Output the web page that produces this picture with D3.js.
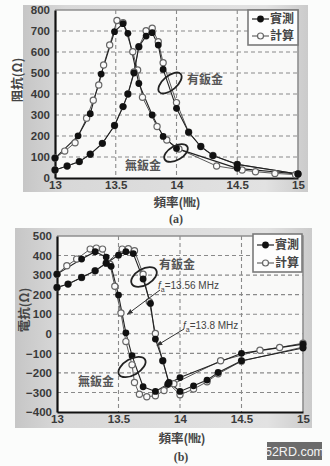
<!DOCTYPE html>
<html>
<head>
<meta charset="utf-8">
<script src="https://cdn.jsdelivr.net/npm/d3@7"></script>
<style>
  html, body { margin: 0; padding: 0; background: #fbfcfb; }
  svg { display: block; }
</style>
</head>
<body>
<svg id="chart" width="330" height="466"></svg>
<script>
// ---- data: (a) impedance, (b) reactance vs frequency (MHz) ----
const xTicks = [13, 13.5, 14, 14.5, 15];
const xTickLabels = ["13", "13.5", "14", "14.5", "15"];
const yTicksA = [0, 100, 200, 300, 400, 500, 600, 700, 800];
const yTicksB = [-400, -300, -200, -100, 0, 100, 200, 300, 400, 500];

// (a) 阻抗
const aNoMeasF = [13.0, 13.19, 13.29, 13.38, 13.49, 13.56, 13.6, 13.69, 13.8, 13.89, 14.0, 14.5, 15.0];
const aNoMeasV = [95, 201, 306, 495, 697, 735, 689, 450, 300, 198, 141, 46, 19];
const aNoCalcF = [13.0, 13.08, 13.165, 13.26, 13.315, 13.36, 13.4, 13.45, 13.51, 13.56, 13.64, 13.68, 13.72, 13.84, 13.92, 14.02, 14.33, 14.54, 14.65, 14.81, 14.98];
const aNoCalcV = [95, 128, 168, 285, 370, 443, 538, 633, 750, 740, 601, 514, 384, 245, 181, 138, 57, 38, 30, 22, 16];
const aYesMeasF = [13.0, 13.1, 13.2, 13.29, 13.39, 13.49, 13.56, 13.6, 13.65, 13.69, 13.75, 13.8, 13.85, 13.89, 14.0, 14.1, 14.2, 14.3, 14.5, 15.0];
const aYesMeasV = [38, 57, 78, 113, 165, 250, 340, 400, 500, 625, 676, 692, 633, 517, 332, 218, 150, 107, 65, 19];
const aYesCalcF = [13.0, 13.1, 13.2, 13.29, 13.39, 13.49, 13.56, 13.6, 13.65, 13.69, 13.75, 13.8, 13.85, 13.89, 14.0, 14.1, 14.2, 14.3, 14.5, 15.0];
const aYesCalcV = [38, 57, 78, 113, 165, 250, 340, 400, 505, 625, 701, 713, 649, 549, 359, 218, 150, 107, 65, 19];

// (b) 電抗
const bNoMeasF = [13.0, 13.2, 13.31, 13.4, 13.44, 13.5, 13.56, 13.61, 13.7, 13.8, 13.9, 14.0, 14.5, 15.0];
const bNoMeasV = [305, 382, 420, 392, 345, 198, 5, -112, -271, -295, -258, -224, -100, -53];
const bNoCalcF = [13.0, 13.08, 13.16, 13.27, 13.32, 13.37, 13.43, 13.47, 13.52, 13.56, 13.61, 13.63, 13.67, 13.73, 13.8, 13.87, 13.95, 14.33, 14.65, 14.81, 15.0];
const bNoCalcV = [305, 348, 382, 433, 438, 433, 356, 243, 106, -40, -159, -249, -309, -322, -317, -290, -255, -138, -84, -70, -48];
const bYesMeasF = [13.0, 13.09, 13.2, 13.31, 13.4, 13.5, 13.56, 13.62, 13.7, 13.76, 13.8, 13.86, 13.91, 14.0, 14.11, 14.22, 14.31, 14.5, 15.0];
const bYesMeasV = [237, 254, 288, 322, 361, 402, 420, 410, 280, 155, -27, -138, -249, -295, -266, -237, -198, -138, -73];
const bYesCalcF = [13.0, 13.09, 13.2, 13.31, 13.4, 13.53, 13.58, 13.63, 13.7, 13.75, 13.8, 13.86, 13.91, 14.0, 14.11, 14.22, 14.31, 14.5, 15.0];
const bYesCalcV = [237, 254, 288, 322, 361, 433, 435, 425, 305, 164, 2, -138, -255, -312, -283, -245, -205, -140, -68];

const legendLabels = ["實測", "計算"];

const zip = (f, v) => f.map((d, i) => ({ f: d, v: v[i] }));
const svg = d3.select("#chart");
const cjk = "'Noto Sans CJK TC', 'Noto Sans CJK SC', sans-serif";
const latin = "'Liberation Sans', Arial, sans-serif";

const defs = svg.append("defs");
const grad = defs.append("linearGradient").attr("id", "panelGrad").attr("x1", 0).attr("x2", 1).attr("y1", 0).attr("y2", 0);
grad.append("stop").attr("offset", "0%").attr("stop-color", "#c6c6c6");
grad.append("stop").attr("offset", "15%").attr("stop-color", "#d8d8d8");
grad.append("stop").attr("offset", "85%").attr("stop-color", "#e2e2e2");
grad.append("stop").attr("offset", "100%").attr("stop-color", "#cbcbcb");
defs.append("marker").attr("id", "arrowHead").attr("viewBox", "0 0 10 10")
  .attr("refX", 9).attr("refY", 5).attr("markerWidth", 6).attr("markerHeight", 6)
  .attr("orient", "auto")
  .append("path").attr("d", "M0,1 L10,5 L0,9 z").attr("fill", "#333");

function drawPanel(cfg) {
  const g = svg.append("g");
  // shaded backdrop behind the axes
  g.append("rect").attr("x", cfg.bg[0]).attr("y", cfg.bg[1])
    .attr("width", cfg.bg[2]).attr("height", cfg.bg[3]).attr("fill", "url(#panelGrad)");

  const x = d3.scaleLinear().domain([13, 15]).range([cfg.left, cfg.right]);
  const y = d3.scaleLinear().domain(cfg.yDomain).range([cfg.bottom, cfg.top]);

  g.append("rect").attr("x", cfg.left).attr("y", cfg.top)
    .attr("width", cfg.right - cfg.left).attr("height", cfg.bottom - cfg.top)
    .attr("fill", "#f9f9f8");

  // dashed grid
  const grid = g.append("g").attr("stroke", "#8a8a8a").attr("stroke-width", 1.1)
    .attr("stroke-dasharray", "4,3");
  cfg.yTicks.slice(1, -1).forEach(t => {
    grid.append("line").attr("x1", cfg.left).attr("x2", cfg.right)
      .attr("y1", y(t)).attr("y2", y(t));
  });
  xTicks.slice(1, -1).forEach(t => {
    grid.append("line").attr("y1", cfg.top).attr("y2", cfg.bottom)
      .attr("x1", x(t)).attr("x2", x(t));
  });

  // light top / right frame
  g.append("path")
    .attr("d", `M${cfg.left},${cfg.top}H${cfg.right}V${cfg.bottom}`)
    .attr("fill", "none").attr("stroke", "#8f8f8f").attr("stroke-width", 1.6);

  // axes
  const xAxis = g.append("g").attr("transform", `translate(0,${cfg.bottom})`)
    .call(d3.axisBottom(x).tickValues(xTicks).tickSize(0).tickPadding(3)
      .tickFormat((d, i) => xTickLabels[i]));
  const yAxis = g.append("g").attr("transform", `translate(${cfg.left},0)`)
    .call(d3.axisLeft(y).tickValues(cfg.yTicks).tickSize(0).tickPadding(5)
      .tickFormat(d => d < 0 ? "\u2212" + Math.abs(d) : String(d)));
  [xAxis, yAxis].forEach(a => {
    a.select(".domain").attr("stroke", "#111").attr("stroke-width", 2.2);
    a.selectAll("text").attr("font-family", latin).attr("font-weight", "bold")
      .attr("font-size", 11.5).attr("fill", "#3a3a3a");
  });

  const line = d3.line().x(d => x(d.f)).y(d => y(d.v));

  // computed curves (open markers) below measured ones
  cfg.calc.forEach(s => {
    g.append("path").datum(s).attr("d", line).attr("fill", "none")
      .attr("stroke", "#5a5a5a").attr("stroke-width", 1);
  });
  cfg.meas.forEach(s => {
    g.append("path").datum(s).attr("d", line).attr("fill", "none")
      .attr("stroke", "#222").attr("stroke-width", 1.1);
  });
  cfg.calc.forEach(s => {
    g.append("g").selectAll("circle").data(s).join("circle")
      .attr("cx", d => x(d.f)).attr("cy", d => y(d.v)).attr("r", 3.1)
      .attr("fill", "#fafafa").attr("stroke", "#666").attr("stroke-width", 1.2);
  });
  cfg.meas.forEach(s => {
    g.append("g").selectAll("circle").data(s).join("circle")
      .attr("cx", d => x(d.f)).attr("cy", d => y(d.v)).attr("r", 3.4)
      .attr("fill", "#111");
  });

  // legend
  const L = cfg.legend;
  const lg = g.append("g");
  lg.append("rect").attr("x", L.x).attr("y", L.y).attr("width", L.w).attr("height", L.h)
    .attr("fill", "#fdfdfd").attr("stroke", "#7a7a7a").attr("stroke-width", 1.6);
  legendLabels.forEach((lab, i) => {
    const yy = L.y + L.row0 + i * L.dy;
    lg.append("line").attr("x1", L.x + 4).attr("x2", L.x + 21).attr("y1", yy).attr("y2", yy)
      .attr("stroke", i === 0 ? "#222" : "#666").attr("stroke-width", 1.2);
    if (i === 0) {
      lg.append("circle").attr("cx", L.x + 12.5).attr("cy", yy).attr("r", 3.4).attr("fill", "#111");
    } else {
      lg.append("circle").attr("cx", L.x + 12.5).attr("cy", yy).attr("r", 3)
        .attr("fill", "#fafafa").attr("stroke", "#666").attr("stroke-width", 1.2);
    }
    lg.append("text").attr("x", L.x + 22).attr("y", yy).attr("dy", "0.34em")
      .attr("font-family", cjk).attr("font-weight", "bold").attr("font-size", 12)
      .attr("fill", "#444").text(lab);
  });

  // axis titles and caption
  g.append("text").attr("transform", `translate(${cfg.yTitle[0]},${cfg.yTitle[1]}) rotate(-90)`)
    .attr("text-anchor", "middle").attr("dy", "0.36em")
    .attr("font-family", cjk).attr("font-weight", "bold").attr("font-size", 12.5)
    .attr("fill", "#444").text(cfg.yLabel);
  g.append("text").attr("x", cfg.xTitle[0]).attr("y", cfg.xTitle[1]).attr("dy", "0.36em")
    .attr("text-anchor", "middle").attr("font-family", cjk).attr("font-weight", "bold")
    .attr("font-size", 12.5).attr("fill", "#444").text("頻率(㎒)");
  g.append("text").attr("x", cfg.caption[0]).attr("y", cfg.caption[1]).attr("dy", "0.36em")
    .attr("text-anchor", "middle").attr("font-family", "'Liberation Serif', serif")
    .attr("font-weight", "bold").attr("font-size", 12).attr("fill", "#444").text(cfg.captionText);

  // annotations: ellipses + labels
  cfg.ellipses.forEach(e => {
    g.append("ellipse").attr("transform", `translate(${e.cx},${e.cy}) rotate(${e.rot})`)
      .attr("rx", e.rx).attr("ry", e.ry).attr("fill", "none")
      .attr("stroke", "#222").attr("stroke-width", 1.8);
  });
  cfg.notes.forEach(n => {
    g.append("text").attr("x", n.x).attr("y", n.y).attr("dy", "0.36em")
      .attr("font-family", cjk).attr("font-weight", "bold").attr("font-size", 12)
      .attr("fill", "#555").text(n.t);
  });
  return { g, x, y };
}

// ---- (a) ----
drawPanel({
  bg: [23, 5, 285, 187],
  left: 55, right: 298, top: 10, bottom: 178,
  yDomain: [0, 800], yTicks: yTicksA,
  calc: [zip(aNoCalcF, aNoCalcV), zip(aYesCalcF, aYesCalcV)],
  meas: [zip(aNoMeasF, aNoMeasV), zip(aYesMeasF, aYesMeasV)],
  legend: { x: 248, y: 10, w: 50, h: 35, row0: 9, dy: 17 },
  yLabel: "阻抗(Ω)", yTitle: [17, 80],
  xTitle: [177, 202], caption: [176, 219], captionText: "(a)",
  ellipses: [
    { cx: 170, cy: 83, rx: 14, ry: 7, rot: -40 },
    { cx: 176, cy: 153, rx: 13, ry: 7, rot: -30 }
  ],
  notes: [
    { x: 187, y: 80, t: "有鈑金" },
    { x: 125, y: 166, t: "無鈑金" }
  ]
});

// ---- (b) ----
const pb = drawPanel({
  bg: [15, 228, 297, 200],
  left: 57, right: 303, top: 236, bottom: 412,
  yDomain: [-400, 500], yTicks: yTicksB,
  calc: [zip(bNoCalcF, bNoCalcV), zip(bYesCalcF, bYesCalcV)],
  meas: [zip(bNoMeasF, bNoMeasV), zip(bYesMeasF, bYesMeasV)],
  legend: { x: 253, y: 234, w: 49, h: 38, row0: 11, dy: 18 },
  yLabel: "電抗(Ω)", yTitle: [24, 310],
  xTitle: [182, 438], caption: [181, 457], captionText: "(b)",
  ellipses: [
    { cx: 144, cy: 277, rx: 14, ry: 8, rot: -30 },
    { cx: 132, cy: 367, rx: 15, ry: 8, rot: -30 }
  ],
  notes: [
    { x: 159, y: 265, t: "有鈑金" },
    { x: 78, y: 382, t: "無鈑金" }
  ]
});

// resonance markers on (b)
const fa = [
  { f: 13.56, v: 100, tx: 158, ty: 285, label: "13.56 MHz", sx: 160, sy: 290 },
  { f: 13.8, v: -60, tx: 183, ty: 325, label: "13.8 MHz", sx: 184, sy: 329 }
];
fa.forEach(d => {
  const ex = pb.x(d.f) + 1.5, ey = pb.y(d.v);
  pb.g.append("line").attr("x1", d.sx).attr("y1", d.sy).attr("x2", ex).attr("y2", ey)
    .attr("stroke", "#333").attr("stroke-width", 1).attr("marker-end", "url(#arrowHead)");
  const t = pb.g.append("text").attr("x", d.tx).attr("y", d.ty).attr("dy", "0.36em")
    .attr("font-family", latin).attr("font-size", 10).attr("fill", "#444");
  t.append("tspan").attr("font-style", "italic").text("f");
  t.append("tspan").attr("font-size", 7).attr("dy", 3).text("a");
  t.append("tspan").attr("dy", -3).text("=" + d.label);
});

// site mark
svg.append("rect").attr("x", 267).attr("y", 442).attr("width", 55).attr("height", 18).attr("fill", "#6b6b6b");
svg.append("text").attr("x", 294.5).attr("y", 451).attr("dy", "0.36em").attr("text-anchor", "middle")
  .attr("font-family", latin).attr("font-size", 12.5).attr("fill", "#f4f4f4").text("52RD.com");
</script>
</body>
</html>
